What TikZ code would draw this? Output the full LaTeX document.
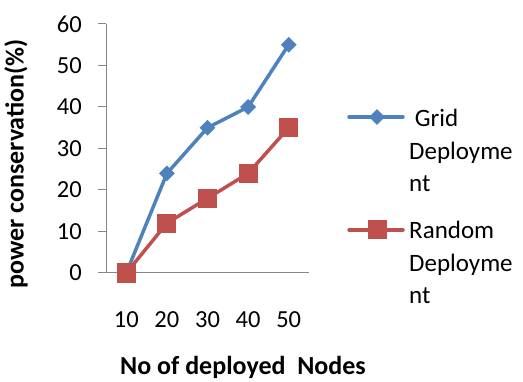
\documentclass[tikz,border=0pt]{standalone}
\usepackage{fontspec}
\setmainfont{Carlito}
\usetikzlibrary{shapes.geometric}
\definecolor{gridblue}{HTML}{4F81BD}
\definecolor{randred}{HTML}{C0504D}
\definecolor{axisgray}{HTML}{868686}
\begin{document}
\begin{tikzpicture}[x=1pt,y=1pt,
  axisline/.style={draw=axisgray,line width=1pt},
  ticklabel/.style={font=\fontsize{24.5}{28}\selectfont,text=black,inner sep=0pt},
  axistitle/.style={font=\fontsize{26}{30}\selectfont\bfseries,text=black,inner sep=0pt},
  series/.style={line width=3.5pt,line join=round,line cap=round},
  bluemark/.style={diamond,fill=gridblue,inner sep=0pt,minimum width=16pt,minimum height=16pt},
  redmark/.style={rectangle,fill=randred,inner sep=0pt,minimum size=19pt},
  legendtext/.style={font=\fontsize{25}{32.5}\selectfont,text=black,align=left,anchor=north west,inner sep=0pt}]
\useasboundingbox (0,0) rectangle (523,381);

% plot area: origin at (106,108), 4.15pt per percent, 40.6pt per category
\def\ox{106}\def\oy{108}\def\cw{40.6}\def\uy{4.15}

% axes
\draw[axisline] (\ox,\oy+60*\uy) -- (\ox,\oy) -- (\ox+5*\cw,\oy);
\foreach \v in {0,10,...,60}{
  \draw[axisline] (\ox-8,\oy+\v*\uy) -- (\ox,\oy+\v*\uy);
  \node[ticklabel,anchor=east] (yl\v) at (\ox-24,\oy+\v*\uy) {\v};
}
\foreach \i/\n in {1/10,2/20,3/30,4/40,5/50}{
  \node[ticklabel] (xl\n) at (\ox+\i*\cw-0.5*\cw,\oy-47) {\n};
}

% axis titles
\node[axistitle,rotate=90] (ytitle) at (16,217) {power conservation(\%)};
\node[axistitle] (xtitle) at (243,14) {No of deployed\ \ Nodes};

% data points
\foreach \i/\g/\r in {1/0/0,2/24/12,3/35/18,4/40/24,5/55/35}{
  \coordinate (g\i) at (\ox+\i*\cw-0.5*\cw,\oy+\g*\uy);
  \coordinate (r\i) at (\ox+\i*\cw-0.5*\cw,\oy+\r*\uy);
}

% grid deployment series
\draw[series,gridblue] (g1) -- (g2) -- (g3) -- (g4) -- (g5);
\foreach \i in {1,...,5} \node[bluemark] (gm\i) at (g\i) {};

% random deployment series
\draw[series,randred] (r1) -- (r2) -- (r3) -- (r4) -- (r5);
\foreach \i in {1,...,5} \node[redmark] (rm\i) at (r\i) {};

% legend
\coordinate (lgA) at (349,264);
\coordinate (lgB) at (403,264);
\draw[series,gridblue] (lgA) -- (lgB);
\node[bluemark] (lgm) at (377,264) {};
\node[legendtext] (lgt) at (409,272) {\ Grid\\Deployme\\nt};

\coordinate (lrA) at (349,151);
\coordinate (lrB) at (403,151);
\draw[series,randred] (lrA) -- (lrB);
\node[redmark] (lrm) at (377,151) {};
\node[legendtext] (lrt) at (409,160) {Random\\Deployme\\nt};
\end{tikzpicture}
\end{document}
